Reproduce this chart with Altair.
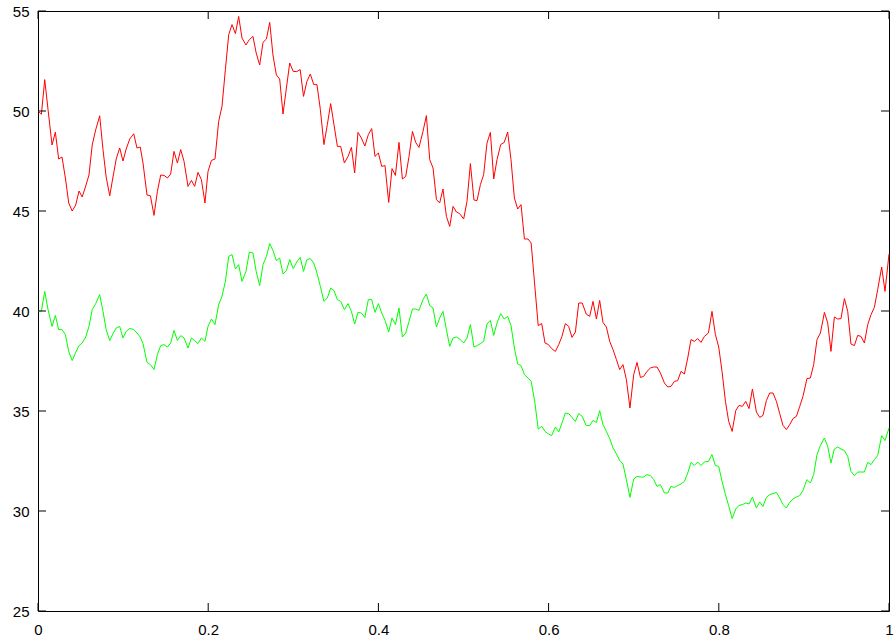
import altair as alt
import pandas as pd

# Shared sample positions for both traces
xs = [
    0.0000, 0.0040, 0.0079, 0.0118, 0.0165, 0.0204, 0.0243, 0.0282, 0.0322, 0.0361,
    0.0402, 0.0443, 0.0482, 0.0519, 0.0561, 0.0599, 0.0637, 0.0678, 0.0725, 0.0764,
    0.0801, 0.0843, 0.0881, 0.0919, 0.0960, 0.0999, 0.1036, 0.1078, 0.1125, 0.1163,
    0.1201, 0.1234, 0.1281, 0.1321, 0.1363, 0.1403, 0.1442, 0.1481, 0.1521, 0.1559,
    0.1598, 0.1638, 0.1677, 0.1716, 0.1763, 0.1803, 0.1841, 0.1880, 0.1920, 0.1962,
    0.1998, 0.2038, 0.2080, 0.2123, 0.2162, 0.2202, 0.2241, 0.2280, 0.2320, 0.2358,
    0.2397, 0.2444, 0.2484, 0.2526, 0.2564, 0.2605, 0.2644, 0.2684, 0.2723, 0.2761,
    0.2801, 0.2840, 0.2879, 0.2919, 0.2958, 0.2999, 0.3040, 0.3081, 0.3120, 0.3160,
    0.3200, 0.3240, 0.3278, 0.3318, 0.3360, 0.3400, 0.3439, 0.3478, 0.3518, 0.3557,
    0.3600, 0.3643, 0.3683, 0.3721, 0.3760, 0.3800, 0.3841, 0.3882, 0.3921, 0.3960,
    0.4000, 0.4039, 0.4078, 0.4121, 0.4160, 0.4200, 0.4242, 0.4282, 0.4321, 0.4360,
    0.4400, 0.4438, 0.4477, 0.4524, 0.4564, 0.4603, 0.4642, 0.4682, 0.4720, 0.4759,
    0.4799, 0.4838, 0.4877, 0.4917, 0.4955, 0.5002, 0.5041, 0.5081, 0.5123, 0.5159,
    0.5199, 0.5237, 0.5276, 0.5316, 0.5355, 0.5394, 0.5437, 0.5478, 0.5519, 0.5558,
    0.5598, 0.5637, 0.5676, 0.5716, 0.5758, 0.5795, 0.5837, 0.5878, 0.5919, 0.5958,
    0.5998, 0.6036, 0.6080, 0.6119, 0.6157, 0.6197, 0.6236, 0.6275, 0.6315, 0.6354,
    0.6395, 0.6442, 0.6483, 0.6522, 0.6562, 0.6600, 0.6639, 0.6679, 0.6718, 0.6757,
    0.6797, 0.6835, 0.6874, 0.6914, 0.6956, 0.7000, 0.7039, 0.7079, 0.7117, 0.7156,
    0.7196, 0.7235, 0.7274, 0.7314, 0.7361, 0.7400, 0.7438, 0.7478, 0.7517, 0.7556,
    0.7596, 0.7635, 0.7673, 0.7713, 0.7752, 0.7791, 0.7831, 0.7878, 0.7920, 0.7960,
    0.7999, 0.8038, 0.8078, 0.8116, 0.8157, 0.8199, 0.8237, 0.8277, 0.8316, 0.8355,
    0.8395, 0.8442, 0.8481, 0.8519, 0.8559, 0.8598, 0.8637, 0.8677, 0.8716, 0.8754,
    0.8794, 0.8833, 0.8872, 0.8912, 0.8951, 0.8989, 0.9036, 0.9076, 0.9115, 0.9154,
    0.9194, 0.9241, 0.9280, 0.9318, 0.9358, 0.9397, 0.9436, 0.9476, 0.9515, 0.9553,
    0.9593, 0.9632, 0.9671, 0.9711, 0.9750, 0.9789, 0.9828, 0.9867, 0.9914, 0.9953,
    1.0000,
]

red = [
    50.00, 49.84, 51.57, 50.07, 48.30, 48.94, 47.60, 47.70, 46.65, 45.40,
    45.00, 45.30, 46.00, 45.70, 46.25, 46.80, 48.30, 49.06, 49.76, 48.06,
    46.70, 45.76, 46.70, 47.60, 48.15, 47.50, 48.10, 48.60, 48.86, 48.15,
    48.20, 47.40, 45.80, 45.76, 44.78, 45.98, 46.80, 46.78, 46.65, 46.85,
    47.98, 47.40, 48.07, 47.48, 46.23, 46.53, 46.23, 46.93, 46.57, 45.40,
    46.98, 47.53, 47.60, 49.48, 50.23, 52.07, 53.82, 54.32, 53.87, 54.73,
    53.65, 53.30, 53.57, 53.73, 52.90, 52.30, 53.43, 53.60, 54.43, 52.80,
    51.80, 51.60, 49.85, 51.15, 52.40, 51.98, 51.97, 52.07, 50.73, 51.48,
    51.85, 51.32, 51.32, 50.07, 48.32, 49.32, 50.37, 49.32, 48.23, 48.23,
    47.40, 47.73, 48.18, 46.90, 48.93, 48.65, 48.25, 48.82, 49.12, 47.73,
    47.90, 47.23, 47.27, 45.43, 47.12, 46.78, 48.43, 46.60, 46.73, 47.73,
    48.98, 48.43, 48.18, 48.98, 49.77, 47.57, 47.15, 45.57, 45.40, 46.10,
    44.73, 44.23, 45.23, 44.95, 44.87, 44.60, 45.48, 47.37, 45.55, 45.52,
    46.32, 46.82, 48.40, 48.93, 46.60, 47.57, 48.32, 48.43, 48.95, 47.57,
    45.65, 45.10, 45.32, 43.60, 43.60, 43.40, 41.30, 39.27, 39.37, 38.40,
    38.32, 38.12, 37.98, 38.32, 38.73, 39.37, 39.23, 38.68, 38.95, 40.40,
    40.40, 39.85, 39.73, 40.48, 39.60, 40.53, 39.43, 39.20, 38.48, 38.07,
    37.57, 37.07, 37.32, 36.57, 35.15, 36.82, 37.43, 36.68, 36.73, 36.98,
    37.15, 37.20, 37.20, 36.90, 36.40, 36.20, 36.23, 36.48, 36.52, 36.98,
    36.85, 37.65, 38.57, 38.48, 38.62, 38.43, 38.73, 38.90, 39.98, 38.82,
    38.20, 36.98, 35.48, 34.48, 33.98, 35.02, 35.28, 35.23, 35.48, 35.12,
    36.10, 34.95, 34.68, 34.78, 35.52, 35.90, 35.90, 35.48, 34.87, 34.28,
    34.07, 34.32, 34.62, 34.73, 35.23, 35.73, 36.62, 36.65, 37.32, 38.57,
    38.90, 39.93, 39.40, 37.98, 39.70, 39.60, 39.62, 40.62, 39.98, 38.35,
    38.27, 38.78, 38.73, 38.40, 39.32, 39.82, 40.18, 41.07, 42.20, 40.98,
    42.85,
]

green = [
    40.00, 40.00, 40.98, 40.07, 39.23, 39.78, 39.07, 39.07, 38.82, 37.98,
    37.52, 37.93, 38.27, 38.40, 38.70, 39.23, 40.07, 40.37, 40.82, 39.98,
    39.07, 38.52, 38.87, 39.15, 39.23, 38.65, 38.98, 39.13, 39.07, 38.90,
    38.70, 38.37, 37.43, 37.32, 37.07, 37.82, 38.27, 38.32, 38.20, 38.40,
    39.03, 38.53, 38.77, 38.65, 38.15, 38.65, 38.52, 38.37, 38.65, 38.48,
    39.23, 39.60, 39.32, 40.32, 40.73, 41.48, 42.73, 42.82, 42.10, 42.32,
    41.48, 41.98, 42.95, 42.90, 41.98, 41.27, 42.32, 42.73, 43.37, 43.03,
    42.52, 42.65, 41.85, 42.02, 42.57, 42.12, 42.45, 42.68, 41.98, 42.57,
    42.62, 42.40, 41.90, 41.23, 40.48, 40.65, 41.15, 41.02, 40.57, 40.48,
    40.07, 40.37, 39.98, 39.35, 39.93, 39.90, 39.67, 40.57, 40.57, 39.93,
    40.37, 39.90, 39.53, 38.95, 39.65, 39.32, 40.15, 38.70, 38.90, 39.48,
    40.10, 40.10, 40.03, 40.57, 40.85, 40.27, 40.15, 39.20, 39.65, 39.98,
    39.07, 38.23, 38.65, 38.70, 38.60, 38.40, 38.65, 39.32, 38.20, 38.27,
    38.37, 38.48, 39.35, 39.53, 38.78, 39.40, 39.87, 39.60, 39.73, 39.28,
    38.15, 37.35, 37.27, 36.82, 36.65, 36.48, 35.48, 34.10, 34.23, 33.98,
    33.85, 33.77, 34.20, 33.95, 34.40, 34.90, 34.87, 34.68, 34.48, 34.87,
    34.73, 34.27, 34.27, 34.53, 34.43, 35.02, 34.32, 33.98, 33.62, 33.15,
    32.85, 32.53, 32.35, 31.57, 30.68, 31.60, 31.73, 31.70, 31.70, 31.82,
    31.77, 31.57, 31.23, 31.32, 30.90, 30.90, 31.23, 31.18, 31.27, 31.35,
    31.48, 31.90, 32.43, 32.28, 32.45, 32.27, 32.45, 32.48, 32.82, 32.27,
    32.23, 31.48, 30.82, 30.27, 29.62, 30.10, 30.28, 30.32, 30.40, 30.35,
    30.70, 30.15, 30.45, 30.23, 30.68, 30.82, 30.87, 30.93, 30.65, 30.32,
    30.15, 30.43, 30.60, 30.70, 30.77, 31.03, 31.57, 31.40, 31.82, 32.82,
    33.27, 33.65, 33.23, 32.40, 33.10, 33.20, 33.10, 33.02, 32.73, 31.98,
    31.77, 31.95, 31.95, 31.95, 32.43, 32.32, 32.57, 32.77, 33.77, 33.52,
    34.15,
]

x_ticks = [0, 0.2, 0.4, 0.6, 0.8, 1.0]
y_ticks = [25, 30, 35, 40, 45, 50, 55]

W, H = 851, 600
FONT = "Liberation Sans"

df = pd.DataFrame(
    {"x": xs * 2, "y": red + green, "series": ["a"] * len(xs) + ["b"] * len(xs)}
)

x_scale = alt.Scale(domain=[0, 1], nice=False, zero=False)
y_scale = alt.Scale(domain=[25, 55], nice=False, zero=False)

lines = (
    alt.Chart(df)
    .mark_line(strokeWidth=1, interpolate="linear")
    .encode(
        x=alt.X(
            "x:Q",
            scale=x_scale,
            axis=alt.Axis(
                values=x_ticks,
                title=None,
                grid=False,
                ticks=False,
                domain=False,
                labelFont=FONT,
                labelFontSize=15,
                labelColor="black",
                labelPadding=11,
                labelFlush=False,
                labelExpr="datum.value == 0 ? '0' : datum.value == 1 ? '1' : format(datum.value, '.1f')",
            ),
        ),
        y=alt.Y(
            "y:Q",
            scale=y_scale,
            axis=alt.Axis(
                values=y_ticks,
                title=None,
                grid=False,
                ticks=False,
                domain=False,
                labelFont=FONT,
                labelFontSize=15,
                labelColor="black",
                labelPadding=9,
                labelFlush=False,
            ),
        ),
        color=alt.Color(
            "series:N",
            scale=alt.Scale(domain=["a", "b"], range=["#ff0000", "#00ff00"]),
            legend=None,
        ),
        detail="series:N",
    )
)

xt = pd.DataFrame({"x": x_ticks})
yt = pd.DataFrame({"y": y_ticks})
TL = 8

x_bottom = alt.Chart(xt).mark_rule(color="black", strokeWidth=1).encode(
    x=alt.X("x:Q", scale=x_scale), y=alt.value(H), y2=alt.value(H - TL)
)
x_top = alt.Chart(xt).mark_rule(color="black", strokeWidth=1).encode(
    x=alt.X("x:Q", scale=x_scale), y=alt.value(0), y2=alt.value(TL)
)
y_left = alt.Chart(yt).mark_rule(color="black", strokeWidth=1).encode(
    y=alt.Y("y:Q", scale=y_scale), x=alt.value(0), x2=alt.value(TL)
)
y_right = alt.Chart(yt).mark_rule(color="black", strokeWidth=1).encode(
    y=alt.Y("y:Q", scale=y_scale), x=alt.value(W), x2=alt.value(W - TL)
)

chart = (
    alt.layer(lines, x_bottom, x_top, y_left, y_right)
    .properties(
        width=W,
        height=H,
        autosize=alt.AutoSizeParams(type="none"),
        padding={"left": 38, "top": 11, "right": 6, "bottom": 29},
        background="white",
    )
    .configure_view(stroke="black", strokeWidth=1)
)

chart.save("out.html", embed_options={"renderer": "svg", "actions": False})
